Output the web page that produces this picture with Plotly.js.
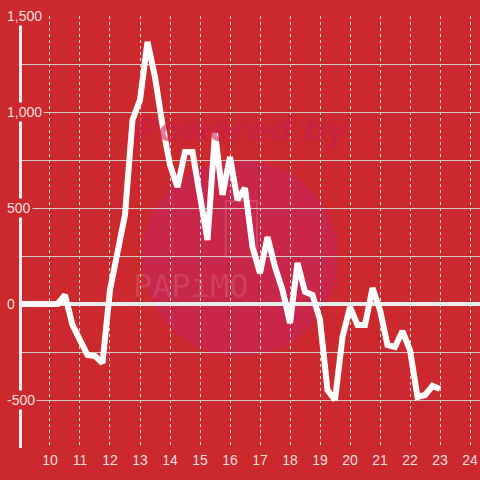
<!DOCTYPE html>
<html>
<head>
<meta charset="utf-8">
<script src="https://cdn.plot.ly/plotly-3.0.1.min.js"></script>
<style>html,body{margin:0;padding:0;background:#cc292e;}#chart{width:480px;height:480px;}</style>
</head>
<body>
<div id="chart"></div>
<script>
// Time of day (hours), every 15 minutes
var hours = [9,9.25,9.5,9.75,10,10.25,10.5,10.75,11,11.25,11.5,11.75,12,12.25,12.5,12.75,13,13.25,13.5,13.75,14,14.25,14.5,14.75,15,15.25,15.5,15.75,16,16.25,16.5,16.75,17,17.25,17.5,17.75,18,18.25,18.5,18.75,19,19.25,19.5,19.75,20,20.25,20.5,20.75,21,21.25,21.5,21.75,22,22.25,22.5,22.75,23];
var values = [0,0,0,0,0,0,47,-109,-188,-266,-271,-307,73,255,464,958,1063,1365,1182,932,724,609,792,792,568,333,891,568,766,542,604,297,161,349,193,73,-99,214,63,47,-83,-448,-500,-172,-16,-109,-109,83,-31,-214,-224,-141,-240,-484,-474,-427,-443];
var xTickVals = [10,11,12,13,14,15,16,17,18,19,20,21,22,23,24];
var xTickLabels = ["10","11","12","13","14","15","16","17","18","19","20","21","22","23","24"];
var yTickVals = [1500,1000,500,0,-500];
var yTickLabels = ["1,500","1,000","500","0","-500"];

var bg = "#cc292e";
var labelColor = "rgba(255,255,255,0.86)";
var font = "Liberation Sans, Arial, sans-serif";

var annotations = yTickVals.map(function(v, i){
  return {xref:"paper", yref:"y", x:-0.037, y:v, xanchor:"left", yanchor:"middle",
    text:yTickLabels[i], showarrow:false, bgcolor:bg, borderpad:1,
    font:{family:font, size:14, color:labelColor}};
});
annotations.unshift(
  {xref:"paper", yref:"paper", x:0.48, y:0.735, xanchor:"center", yanchor:"middle",
   text:"<b><i>Powered by</i></b>", showarrow:false,
   font:{family:"DejaVu Sans, sans-serif", size:32, color:"rgba(205,30,80,0.6)"}},
  {xref:"paper", yref:"paper", x:0.37, y:0.375, xanchor:"center", yanchor:"middle",
   text:"PAPiMO", showarrow:false,
   font:{family:"DejaVu Sans Mono, monospace", size:32, color:"rgba(255,255,255,0.13)"}}
);

var trace = {
  x: hours, y: values, type:"scatter", mode:"lines",
  line:{color:"#ffffff", width:6}, hoverinfo:"skip"
};

var layout = {
  width:480, height:480,
  paper_bgcolor:bg, plot_bgcolor:bg,
  margin:{l:22, r:0, t:16, b:32, pad:0},
  showlegend:false,
  font:{family:font, size:14, color:labelColor},
  xaxis:{
    range:[9.067, 24.333], tickvals:xTickVals, ticktext:xTickLabels,
    showgrid:true, gridcolor:"#e2dada", gridwidth:1, griddash:"dot",
    zeroline:false, showline:false, ticks:"", ticklabelstandoff:2,
    tickfont:{family:font, size:14, color:labelColor}
  },
  yaxis:{
    range:[-750, 1500], dtick:250, showticklabels:false, ticks:"",
    showgrid:true, gridcolor:"#cfc6c6", gridwidth:1,
    zeroline:true, zerolinecolor:"#eeeeee", zerolinewidth:3.5,
    showline:true, linecolor:"#eeeeee", linewidth:3
  },
  shapes:[
    {type:"circle", xref:"paper", yref:"paper", x0:0.262, x1:0.690, y0:0.213, y1:0.667,
     fillcolor:"#c92749", line:{width:0}, layer:"below"},
    {type:"rect", xref:"paper", yref:"paper", x0:0.445, x1:0.513, y0:0.442, y1:0.572,
     fillcolor:"rgba(0,0,0,0)", line:{color:"rgba(255,255,255,0.12)", width:2}, layer:"below"}
  ],
  annotations: annotations
};

Plotly.newPlot("chart", [trace], layout, {staticPlot:true, displayModeBar:false});
</script>
</body>
</html>
